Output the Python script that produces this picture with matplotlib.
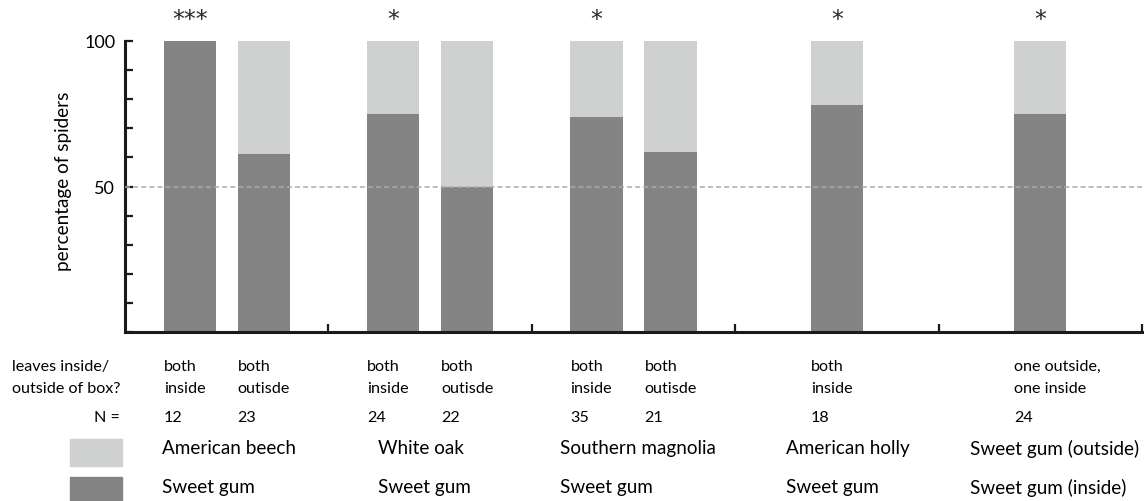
import matplotlib.pyplot as plt
from matplotlib.patches import Rectangle
from matplotlib.transforms import blended_transform_factory

plt.rcParams['font.family'] = ['Lato', 'DejaVu Sans']

# one entry per bar
leaf_position = ['both\ninside', 'both\noutisde', 'both\ninside', 'both\noutisde',
                 'both\ninside', 'both\noutisde', 'both\ninside', 'one outside,\none inside']
n_spiders = [12, 23, 24, 22, 35, 21, 18, 24]
sweet_gum_pct = [100, 61, 75, 50, 74, 62, 78, 75]
other_pct = [0, 39, 25, 50, 26, 38, 22, 25]
bar_group = [0, 0, 1, 1, 2, 2, 3, 4]

# one entry per group (choice pair)
signif = ['***', '*', '*', '*', '*']
other_leaf = ['American beech', 'White oak', 'Southern magnolia', 'American holly', 'Sweet gum (outside)']
base_leaf = ['Sweet gum', 'Sweet gum', 'Sweet gum', 'Sweet gum', 'Sweet gum (inside)']

DARK = '#848484'
LIGHT = '#cfd1d0'
W, H = 1147, 502

fig = plt.figure(figsize=(W / 100, H / 100), dpi=100)
ax = fig.add_axes([125 / W, (H - 333) / H, (1142 - 125) / W, (333 - 42) / H])

# bar positions: pairs sit either side of the group centre
xs = []
for i, g in enumerate(bar_group):
    size = bar_group.count(g)
    k = bar_group[:i].count(g)
    off = 0 if size == 1 else (-0.182 if k == 0 else 0.182)
    xs.append(g + 0.5 + off)
bw = 0.256

ax.bar(xs, sweet_gum_pct, width=bw, color=DARK, zorder=2)
ax.bar(xs, other_pct, width=bw, bottom=sweet_gum_pct, color=LIGHT, zorder=2)
ax.axhline(50, color='#aaaaaa', lw=1.1, dashes=(3.3, 2), zorder=3)

ax.set_xlim(0, 5)
ax.set_ylim(0, 100)
for s in ['top', 'right']:
    ax.spines[s].set_visible(False)
for s in ['left', 'bottom']:
    ax.spines[s].set_linewidth(2.2)
    ax.spines[s].set_color('#1a1a1a')
ax.set_xticks([1, 2, 3, 4, 5])
ax.set_xticklabels([])
ax.set_yticks(range(0, 101, 10))
ax.set_yticklabels(['' if v not in (50, 100) else str(v) for v in range(0, 101, 10)])
ax.tick_params(direction='in', length=6, width=1.6, color='#1a1a1a', labelsize=13, pad=7)
ax.set_ylabel('percentage of spiders', fontsize=13.6)
ax.yaxis.set_label_coords(-0.052, 0.52)

def fy(y):
    return 1 - y / H

tr = blended_transform_factory(ax.transData, fig.transFigure)

# significance stars above the first bar of each group
for g, s in enumerate(signif):
    x0 = xs[bar_group.index(g)]
    fig.text(x0, fy(20), s, transform=tr, ha='center', va='center', fontsize=17,
             color='#2a2a2a', family='DejaVu Sans')

# table under the axis
fig.text(12 / W, fy(378), 'leaves inside/\noutside of box?', ha='left', va='center',
         fontsize=11.6, linespacing=1.75)
fig.text(120 / W, fy(418), 'N =', ha='right', va='center', fontsize=11.6)
for x, lab, n in zip(xs, leaf_position, n_spiders):
    fig.text(x - bw / 2, fy(378), lab, transform=tr, ha='left', va='center',
             fontsize=11.6, linespacing=1.75)
    fig.text(x - bw / 2, fy(418), str(n), transform=tr, ha='left', va='center', fontsize=11.6)

# legend swatches and species names
fig.patches.append(Rectangle((70 / W, fy(467)), 52 / W, 27 / H, transform=fig.transFigure,
                             color=LIGHT))
fig.patches.append(Rectangle((70 / W, fy(503)), 52 / W, 25 / H, transform=fig.transFigure,
                             color=DARK))
name_x = [162, 378, 560, 786, 970]
for x, a, b in zip(name_x, other_leaf, base_leaf):
    fig.text(x / W, fy(449), a, ha='left', va='center', fontsize=13.6)
    fig.text(x / W, fy(488), b, ha='left', va='center', fontsize=13.6)

fig.savefig('out.png', dpi=100)
